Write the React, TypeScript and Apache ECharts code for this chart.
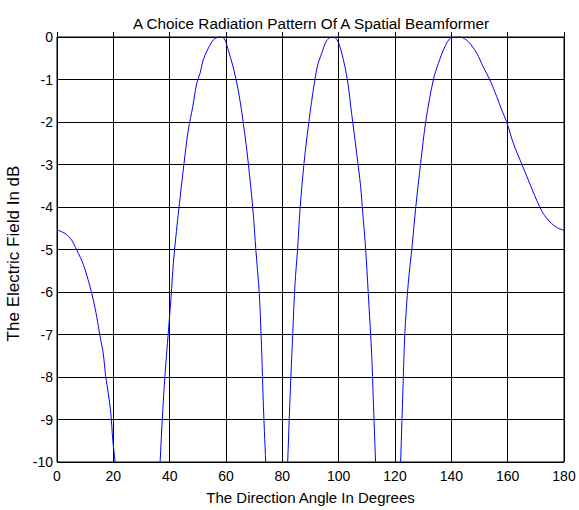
import React, { useEffect, useRef } from "react";
import * as echarts from "echarts";

const titleText = "A Choice Radiation Pattern Of A Spatial Beamformer";
const xAxisName = "The Direction Angle In Degrees";
const yAxisName = "The Electric Field In dB";

// angle (degrees) samples, null separates segments that drop below -10 dB
const angles: (number | null)[] = [
  0, 2.8, 5.2, 7.0, 9.4, 11.7, 12.9, 14.1, 15.3, 16.4, 17.3, 18.2, 19.1, 19.8, 20.6, 21.2,
  null,
  36.2, 36.6, 37.5, 38.3, 39.5, 40.5, 41.3, 42.2, 43.0, 45.1, 46.6, 48.2, 49.6, 50.8, 51.9, 53.7, 55.5, 57.5, 59.3, 61.0, 62.8, 64.6, 66.2, 67.8, 69.6, 70.6, 71.8, 72.7, 73.2, 74.1, 74.5,
  null,
  81.5, 81.9, 82.7, 83.7, 84.5, 85.4, 86.3, 87.7, 89.2, 90.8, 92.4, 94.0, 95.7, 97.5, 99.3, 101.1, 103.1, 104.6, 106.4, 107.8, 108.5, 109.6, 110.5, 111.7, 112.3, 113.1, 113.5,
  null,
  121.7, 122.0, 122.7, 123.5, 124.7, 126.1, 127.4, 129.1, 131.0, 133.6, 135.4, 137.7, 140.1, 143.1, 146.0, 149.0, 151.3, 153.7, 156.1, 157.9, 159.6, 162.0, 165.0, 167.3, 170.3, 172.6, 175.0, 177.4, 180,
];

const fieldDb: (number | null)[] = [
  -4.54, -4.62, -4.78, -5.01, -5.36, -5.87, -6.19, -6.58, -7.05, -7.44, -7.99, -8.38, -8.85, -9.48, -10.0, -10.6,
  null,
  -10.6, -10.0, -8.85, -7.99, -6.97, -6.11, -5.33, -4.70, -4.20, -2.97, -2.19, -1.64, -1.09, -0.85, -0.54, -0.27, -0.07, 0, -0.03, -0.35, -0.78, -1.35, -2.05, -2.9, -4.1, -5.01, -6.03, -7.44, -8.54, -10.02, -10.6,
  null,
  -10.6, -10.0, -8.54, -6.97, -5.80, -5.01, -4.03, -2.97, -2.11, -1.33, -0.70, -0.38, -0.09, 0, -0.05, -0.38, -1.01, -1.80, -2.74, -3.52, -4.1, -5.01, -6.03, -7.44, -8.54, -10.0, -10.6,
  null,
  -10.6, -10.0, -8.54, -6.97, -5.80, -4.9, -3.99, -2.97, -1.95, -1.01, -0.62, -0.23, -0.01, 0, -0.11, -0.38, -0.70, -1.01, -1.40, -1.72, -1.99, -2.50, -2.99, -3.36, -3.84, -4.15, -4.35, -4.48, -4.55,
];

const xTicks = [0, 20, 40, 60, 80, 100, 120, 140, 160, 180];
const yTicks = [0, -1, -2, -3, -4, -5, -6, -7, -8, -9, -10];

const FONT = "'Liberation Sans', Arial, sans-serif";

export default function App() {
  const ref = useRef<HTMLDivElement>(null);
  useEffect(() => {
    if (!ref.current) return;
    const chart = echarts.init(ref.current, undefined, { renderer: "svg" });
    const data = angles.map((a, i) =>
      a === null || fieldDb[i] === null ? [null, null] : [a, fieldDb[i]]
    );
    chart.setOption({
      animation: false,
      backgroundColor: "#ffffff",
      title: {
        text: titleText,
        left: 306,
        textAlign: "center",
        top: 11,
        textStyle: { fontFamily: FONT, fontSize: 15.3, fontWeight: "normal", color: "#000" },
      },
      grid: {
        left: 57,
        top: 37,
        width: 507,
        height: 425,
        outerBoundsMode: "none",
        containLabel: false,
        show: true,
        borderColor: "#000",
        borderWidth: 1,
        backgroundColor: "#fff",
      },
      xAxis: {
        type: "value",
        min: xTicks[0],
        max: xTicks[xTicks.length - 1],
        interval: 20,
        name: xAxisName,
        nameLocation: "middle",
        nameGap: 28,
        nameTextStyle: { fontFamily: FONT, fontSize: 15, color: "#000" },
        axisLine: { show: true, lineStyle: { color: "#000", width: 1 } },
        axisTick: { show: true, inside: true, length: 5, lineStyle: { color: "#000" } },
        axisLabel: { fontFamily: FONT, fontSize: 14, color: "#000", margin: 7 },
        splitLine: { show: true, lineStyle: { color: "#000", width: 1 } },
      },
      yAxis: {
        type: "value",
        min: yTicks[yTicks.length - 1],
        max: yTicks[0],
        interval: 1,
        name: yAxisName,
        nameLocation: "middle",
        nameGap: 33,
        nameTextStyle: { fontFamily: FONT, fontSize: 17, color: "#000", padding: [0, 8, 0, 0] },
        axisLine: { show: true, lineStyle: { color: "#000", width: 1 } },
        axisTick: { show: true, inside: true, length: 5, lineStyle: { color: "#000" } },
        axisLabel: { fontFamily: FONT, fontSize: 14, color: "#000", margin: 4 },
        splitLine: { show: true, lineStyle: { color: "#000", width: 1 } },
      },
      series: [
        {
          type: "line",
          data,
          showSymbol: false,
          symbol: "none",
          smooth: 0.3,
          connectNulls: false,
          clip: true,
          lineStyle: { color: "#0000ff", width: 1 },
        },
      ],
    });
    return () => chart.dispose();
  }, []);
  return (
    <div
      ref={ref}
      style={{ position: "fixed", left: 0, top: 0, width: 579, height: 510, background: "#fff" }}
    />
  );
}
